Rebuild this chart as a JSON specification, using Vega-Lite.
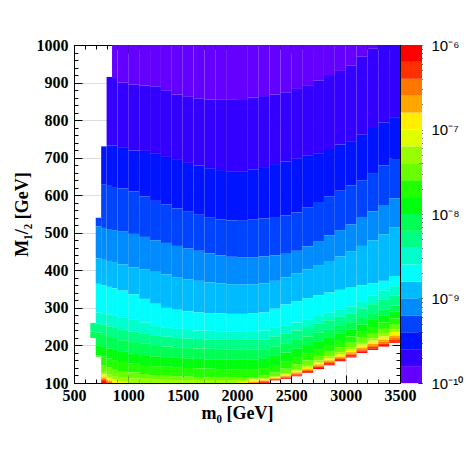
{
"$schema":"https://vega.github.io/schema/vega-lite/v6.json",
"background":"white",
"padding":{"left":12,"top":36,"right":2,"bottom":2},
"spacing":1,
"bounds":"flush",
"config":{
"view":{"stroke":"black","strokeWidth":1},
"axis":{"labelFont":"Liberation Serif","labelFontWeight":"bold","labelFontSize":16,"labelColor":"black","titleFont":"Liberation Serif","titleFontWeight":"bold","titleFontSize":18,"titleColor":"black","domainColor":"black","tickColor":"black","tickWidth":1,"labelFlush":false,"labelOverlap":false,"labelBound":false,"zindex":3}
},
"hconcat":[
{
"width":326,"height":338,
"data":{"values":[
{"x":650,"x2":700,"y":237,"y2":260,"l":8},{"x":650,"x2":700,"y":220,"y2":237,"l":9},
{"x":700,"x2":750,"y":517,"y2":540,"l":3},{"x":700,"x2":750,"y":432,"y2":517,"l":4},{"x":700,"x2":750,"y":364,"y2":432,"l":5},{"x":700,"x2":750,"y":288,"y2":364,"l":6},{"x":700,"x2":750,"y":258,"y2":288,"l":7},{"x":700,"x2":750,"y":234,"y2":258,"l":8},{"x":700,"x2":750,"y":200,"y2":234,"l":9},{"x":700,"x2":750,"y":174,"y2":200,"l":10},{"x":700,"x2":750,"y":170,"y2":174,"l":11},
{"x":750,"x2":800,"y":628,"y2":730,"l":2},{"x":750,"x2":800,"y":513,"y2":628,"l":3},{"x":750,"x2":800,"y":428,"y2":513,"l":4},{"x":750,"x2":800,"y":360,"y2":428,"l":5},{"x":750,"x2":800,"y":286,"y2":360,"l":6},{"x":750,"x2":800,"y":255,"y2":286,"l":7},{"x":750,"x2":800,"y":230,"y2":255,"l":8},{"x":750,"x2":800,"y":196,"y2":230,"l":9},{"x":750,"x2":800,"y":170,"y2":196,"l":10},{"x":750,"x2":800,"y":146,"y2":170,"l":11},{"x":750,"x2":800,"y":127,"y2":146,"l":12},{"x":750,"x2":800,"y":123,"y2":127,"l":13},{"x":750,"x2":800,"y":119,"y2":123,"l":14},{"x":750,"x2":800,"y":115,"y2":119,"l":15},{"x":750,"x2":800,"y":111,"y2":115,"l":16},{"x":750,"x2":800,"y":108,"y2":111,"l":17},{"x":750,"x2":800,"y":105,"y2":108,"l":18},{"x":750,"x2":800,"y":100,"y2":105,"l":19},
{"x":800,"x2":850,"y":732,"y2":915,"l":1},{"x":800,"x2":850,"y":625,"y2":732,"l":2},{"x":800,"x2":850,"y":510,"y2":625,"l":3},{"x":800,"x2":850,"y":425,"y2":510,"l":4},{"x":800,"x2":850,"y":356,"y2":425,"l":5},{"x":800,"x2":850,"y":283,"y2":356,"l":6},{"x":800,"x2":850,"y":251,"y2":283,"l":7},{"x":800,"x2":850,"y":225,"y2":251,"l":8},{"x":800,"x2":850,"y":192,"y2":225,"l":9},{"x":800,"x2":850,"y":165,"y2":192,"l":10},{"x":800,"x2":850,"y":141,"y2":165,"l":11},{"x":800,"x2":850,"y":122,"y2":141,"l":12},{"x":800,"x2":850,"y":116,"y2":122,"l":13},{"x":800,"x2":850,"y":111,"y2":116,"l":14},{"x":800,"x2":850,"y":106,"y2":111,"l":15},{"x":800,"x2":850,"y":103,"y2":106,"l":16},{"x":800,"x2":850,"y":100,"y2":103,"l":17},
{"x":850,"x2":900,"y":912,"y2":1000,"l":0},{"x":850,"x2":900,"y":732,"y2":912,"l":1},{"x":850,"x2":900,"y":622,"y2":732,"l":2},{"x":850,"x2":900,"y":507,"y2":622,"l":3},{"x":850,"x2":900,"y":422,"y2":507,"l":4},{"x":850,"x2":900,"y":352,"y2":422,"l":5},{"x":850,"x2":900,"y":280,"y2":352,"l":6},{"x":850,"x2":900,"y":247,"y2":280,"l":7},{"x":850,"x2":900,"y":220,"y2":247,"l":8},{"x":850,"x2":900,"y":188,"y2":220,"l":9},{"x":850,"x2":900,"y":161,"y2":188,"l":10},{"x":850,"x2":900,"y":137,"y2":161,"l":11},{"x":850,"x2":900,"y":117,"y2":137,"l":12},{"x":850,"x2":900,"y":110,"y2":117,"l":13},{"x":850,"x2":900,"y":104,"y2":110,"l":14},{"x":850,"x2":900,"y":100,"y2":104,"l":15},
{"x":900,"x2":1000,"y":900,"y2":1000,"l":0},{"x":900,"x2":1000,"y":728,"y2":900,"l":1},{"x":900,"x2":1000,"y":618,"y2":728,"l":2},{"x":900,"x2":1000,"y":503,"y2":618,"l":3},{"x":900,"x2":1000,"y":416,"y2":503,"l":4},{"x":900,"x2":1000,"y":346,"y2":416,"l":5},{"x":900,"x2":1000,"y":274,"y2":346,"l":6},{"x":900,"x2":1000,"y":242,"y2":274,"l":7},{"x":900,"x2":1000,"y":214,"y2":242,"l":8},{"x":900,"x2":1000,"y":183,"y2":214,"l":9},{"x":900,"x2":1000,"y":156,"y2":183,"l":10},{"x":900,"x2":1000,"y":132,"y2":156,"l":11},{"x":900,"x2":1000,"y":114,"y2":132,"l":12},{"x":900,"x2":1000,"y":105,"y2":114,"l":13},{"x":900,"x2":1000,"y":100,"y2":105,"l":14},
{"x":1000,"x2":1100,"y":895,"y2":1000,"l":0},{"x":1000,"x2":1100,"y":719,"y2":895,"l":1},{"x":1000,"x2":1100,"y":610,"y2":719,"l":2},{"x":1000,"x2":1100,"y":497,"y2":610,"l":3},{"x":1000,"x2":1100,"y":408,"y2":497,"l":4},{"x":1000,"x2":1100,"y":336,"y2":408,"l":5},{"x":1000,"x2":1100,"y":268,"y2":336,"l":6},{"x":1000,"x2":1100,"y":237,"y2":268,"l":7},{"x":1000,"x2":1100,"y":209,"y2":237,"l":8},{"x":1000,"x2":1100,"y":178,"y2":209,"l":9},{"x":1000,"x2":1100,"y":152,"y2":178,"l":10},{"x":1000,"x2":1100,"y":128,"y2":152,"l":11},{"x":1000,"x2":1100,"y":112,"y2":128,"l":12},{"x":1000,"x2":1100,"y":100,"y2":112,"l":13},
{"x":1100,"x2":1200,"y":892,"y2":1000,"l":0},{"x":1100,"x2":1200,"y":718,"y2":892,"l":1},{"x":1100,"x2":1200,"y":597,"y2":718,"l":2},{"x":1100,"x2":1200,"y":489,"y2":597,"l":3},{"x":1100,"x2":1200,"y":402,"y2":489,"l":4},{"x":1100,"x2":1200,"y":324,"y2":402,"l":5},{"x":1100,"x2":1200,"y":261,"y2":324,"l":6},{"x":1100,"x2":1200,"y":232,"y2":261,"l":7},{"x":1100,"x2":1200,"y":205,"y2":232,"l":8},{"x":1100,"x2":1200,"y":174,"y2":205,"l":9},{"x":1100,"x2":1200,"y":148,"y2":174,"l":10},{"x":1100,"x2":1200,"y":124,"y2":148,"l":11},{"x":1100,"x2":1200,"y":111,"y2":124,"l":12},{"x":1100,"x2":1200,"y":100,"y2":111,"l":13},
{"x":1200,"x2":1300,"y":890,"y2":1000,"l":0},{"x":1200,"x2":1300,"y":712,"y2":890,"l":1},{"x":1200,"x2":1300,"y":585,"y2":712,"l":2},{"x":1200,"x2":1300,"y":480,"y2":585,"l":3},{"x":1200,"x2":1300,"y":396,"y2":480,"l":4},{"x":1200,"x2":1300,"y":311,"y2":396,"l":5},{"x":1200,"x2":1300,"y":254,"y2":311,"l":6},{"x":1200,"x2":1300,"y":227,"y2":254,"l":7},{"x":1200,"x2":1300,"y":201,"y2":227,"l":8},{"x":1200,"x2":1300,"y":171,"y2":201,"l":9},{"x":1200,"x2":1300,"y":145,"y2":171,"l":10},{"x":1200,"x2":1300,"y":121,"y2":145,"l":11},{"x":1200,"x2":1300,"y":110,"y2":121,"l":12},{"x":1200,"x2":1300,"y":100,"y2":110,"l":13},
{"x":1300,"x2":1400,"y":878,"y2":1000,"l":0},{"x":1300,"x2":1400,"y":702,"y2":878,"l":1},{"x":1300,"x2":1400,"y":575,"y2":702,"l":2},{"x":1300,"x2":1400,"y":473,"y2":575,"l":3},{"x":1300,"x2":1400,"y":389,"y2":473,"l":4},{"x":1300,"x2":1400,"y":300,"y2":389,"l":5},{"x":1300,"x2":1400,"y":248,"y2":300,"l":6},{"x":1300,"x2":1400,"y":223,"y2":248,"l":7},{"x":1300,"x2":1400,"y":197,"y2":223,"l":8},{"x":1300,"x2":1400,"y":169,"y2":197,"l":9},{"x":1300,"x2":1400,"y":143,"y2":169,"l":10},{"x":1300,"x2":1400,"y":119,"y2":143,"l":11},{"x":1300,"x2":1400,"y":109,"y2":119,"l":12},{"x":1300,"x2":1400,"y":100,"y2":109,"l":13},
{"x":1400,"x2":1500,"y":868,"y2":1000,"l":0},{"x":1400,"x2":1500,"y":694,"y2":868,"l":1},{"x":1400,"x2":1500,"y":565,"y2":694,"l":2},{"x":1400,"x2":1500,"y":465,"y2":565,"l":3},{"x":1400,"x2":1500,"y":382,"y2":465,"l":4},{"x":1400,"x2":1500,"y":295,"y2":382,"l":5},{"x":1400,"x2":1500,"y":244,"y2":295,"l":6},{"x":1400,"x2":1500,"y":220,"y2":244,"l":7},{"x":1400,"x2":1500,"y":195,"y2":220,"l":8},{"x":1400,"x2":1500,"y":167,"y2":195,"l":9},{"x":1400,"x2":1500,"y":141,"y2":167,"l":10},{"x":1400,"x2":1500,"y":118,"y2":141,"l":11},{"x":1400,"x2":1500,"y":108,"y2":118,"l":12},{"x":1400,"x2":1500,"y":100,"y2":108,"l":13},
{"x":1500,"x2":1600,"y":862,"y2":1000,"l":0},{"x":1500,"x2":1600,"y":686,"y2":862,"l":1},{"x":1500,"x2":1600,"y":556,"y2":686,"l":2},{"x":1500,"x2":1600,"y":458,"y2":556,"l":3},{"x":1500,"x2":1600,"y":376,"y2":458,"l":4},{"x":1500,"x2":1600,"y":291,"y2":376,"l":5},{"x":1500,"x2":1600,"y":241,"y2":291,"l":6},{"x":1500,"x2":1600,"y":218,"y2":241,"l":7},{"x":1500,"x2":1600,"y":193,"y2":218,"l":8},{"x":1500,"x2":1600,"y":165,"y2":193,"l":9},{"x":1500,"x2":1600,"y":140,"y2":165,"l":10},{"x":1500,"x2":1600,"y":117,"y2":140,"l":11},{"x":1500,"x2":1600,"y":108,"y2":117,"l":12},{"x":1500,"x2":1600,"y":100,"y2":108,"l":13},
{"x":1600,"x2":1700,"y":858,"y2":1000,"l":0},{"x":1600,"x2":1700,"y":679,"y2":858,"l":1},{"x":1600,"x2":1700,"y":548,"y2":679,"l":2},{"x":1600,"x2":1700,"y":452,"y2":548,"l":3},{"x":1600,"x2":1700,"y":372,"y2":452,"l":4},{"x":1600,"x2":1700,"y":288,"y2":372,"l":5},{"x":1600,"x2":1700,"y":240,"y2":288,"l":6},{"x":1600,"x2":1700,"y":217,"y2":240,"l":7},{"x":1600,"x2":1700,"y":192,"y2":217,"l":8},{"x":1600,"x2":1700,"y":164,"y2":192,"l":9},{"x":1600,"x2":1700,"y":139,"y2":164,"l":10},{"x":1600,"x2":1700,"y":116,"y2":139,"l":11},{"x":1600,"x2":1700,"y":108,"y2":116,"l":12},{"x":1600,"x2":1700,"y":100,"y2":108,"l":13},
{"x":1700,"x2":1800,"y":855,"y2":1000,"l":0},{"x":1700,"x2":1800,"y":672,"y2":855,"l":1},{"x":1700,"x2":1800,"y":540,"y2":672,"l":2},{"x":1700,"x2":1800,"y":445,"y2":540,"l":3},{"x":1700,"x2":1800,"y":368,"y2":445,"l":4},{"x":1700,"x2":1800,"y":286,"y2":368,"l":5},{"x":1700,"x2":1800,"y":239,"y2":286,"l":6},{"x":1700,"x2":1800,"y":216,"y2":239,"l":7},{"x":1700,"x2":1800,"y":191,"y2":216,"l":8},{"x":1700,"x2":1800,"y":163,"y2":191,"l":9},{"x":1700,"x2":1800,"y":138,"y2":163,"l":10},{"x":1700,"x2":1800,"y":115,"y2":138,"l":11},{"x":1700,"x2":1800,"y":108,"y2":115,"l":12},{"x":1700,"x2":1800,"y":100,"y2":108,"l":13},
{"x":1800,"x2":1900,"y":854,"y2":1000,"l":0},{"x":1800,"x2":1900,"y":667,"y2":854,"l":1},{"x":1800,"x2":1900,"y":536,"y2":667,"l":2},{"x":1800,"x2":1900,"y":440,"y2":536,"l":3},{"x":1800,"x2":1900,"y":365,"y2":440,"l":4},{"x":1800,"x2":1900,"y":285,"y2":365,"l":5},{"x":1800,"x2":1900,"y":238,"y2":285,"l":6},{"x":1800,"x2":1900,"y":215,"y2":238,"l":7},{"x":1800,"x2":1900,"y":190,"y2":215,"l":8},{"x":1800,"x2":1900,"y":162,"y2":190,"l":9},{"x":1800,"x2":1900,"y":137,"y2":162,"l":10},{"x":1800,"x2":1900,"y":114,"y2":137,"l":11},{"x":1800,"x2":1900,"y":108,"y2":114,"l":12},{"x":1800,"x2":1900,"y":100,"y2":108,"l":13},
{"x":1900,"x2":2000,"y":854,"y2":1000,"l":0},{"x":1900,"x2":2000,"y":664,"y2":854,"l":1},{"x":1900,"x2":2000,"y":533,"y2":664,"l":2},{"x":1900,"x2":2000,"y":436,"y2":533,"l":3},{"x":1900,"x2":2000,"y":363,"y2":436,"l":4},{"x":1900,"x2":2000,"y":284,"y2":363,"l":5},{"x":1900,"x2":2000,"y":237,"y2":284,"l":6},{"x":1900,"x2":2000,"y":215,"y2":237,"l":7},{"x":1900,"x2":2000,"y":189,"y2":215,"l":8},{"x":1900,"x2":2000,"y":162,"y2":189,"l":9},{"x":1900,"x2":2000,"y":136,"y2":162,"l":10},{"x":1900,"x2":2000,"y":114,"y2":136,"l":11},{"x":1900,"x2":2000,"y":108,"y2":114,"l":12},{"x":1900,"x2":2000,"y":100,"y2":108,"l":13},
{"x":2000,"x2":2100,"y":856,"y2":1000,"l":0},{"x":2000,"x2":2100,"y":664,"y2":856,"l":1},{"x":2000,"x2":2100,"y":532,"y2":664,"l":2},{"x":2000,"x2":2100,"y":434,"y2":532,"l":3},{"x":2000,"x2":2100,"y":362,"y2":434,"l":4},{"x":2000,"x2":2100,"y":284,"y2":362,"l":5},{"x":2000,"x2":2100,"y":237,"y2":284,"l":6},{"x":2000,"x2":2100,"y":215,"y2":237,"l":7},{"x":2000,"x2":2100,"y":189,"y2":215,"l":8},{"x":2000,"x2":2100,"y":162,"y2":189,"l":9},{"x":2000,"x2":2100,"y":136,"y2":162,"l":10},{"x":2000,"x2":2100,"y":114,"y2":136,"l":11},{"x":2000,"x2":2100,"y":108,"y2":114,"l":12},{"x":2000,"x2":2100,"y":103,"y2":108,"l":13},{"x":2000,"x2":2100,"y":100,"y2":103,"l":14},
{"x":2100,"x2":2200,"y":860,"y2":1000,"l":0},{"x":2100,"x2":2200,"y":668,"y2":860,"l":1},{"x":2100,"x2":2200,"y":535,"y2":668,"l":2},{"x":2100,"x2":2200,"y":434,"y2":535,"l":3},{"x":2100,"x2":2200,"y":363,"y2":434,"l":4},{"x":2100,"x2":2200,"y":286,"y2":363,"l":5},{"x":2100,"x2":2200,"y":238,"y2":286,"l":6},{"x":2100,"x2":2200,"y":215,"y2":238,"l":7},{"x":2100,"x2":2200,"y":189,"y2":215,"l":8},{"x":2100,"x2":2200,"y":162,"y2":189,"l":9},{"x":2100,"x2":2200,"y":137,"y2":162,"l":10},{"x":2100,"x2":2200,"y":116,"y2":137,"l":11},{"x":2100,"x2":2200,"y":112,"y2":116,"l":12},{"x":2100,"x2":2200,"y":109,"y2":112,"l":13},{"x":2100,"x2":2200,"y":106,"y2":109,"l":14},{"x":2100,"x2":2200,"y":103,"y2":106,"l":15},{"x":2100,"x2":2200,"y":100,"y2":103,"l":16},
{"x":2200,"x2":2300,"y":864,"y2":1000,"l":0},{"x":2200,"x2":2300,"y":675,"y2":864,"l":1},{"x":2200,"x2":2300,"y":538,"y2":675,"l":2},{"x":2200,"x2":2300,"y":437,"y2":538,"l":3},{"x":2200,"x2":2300,"y":365,"y2":437,"l":4},{"x":2200,"x2":2300,"y":288,"y2":365,"l":5},{"x":2200,"x2":2300,"y":240,"y2":288,"l":6},{"x":2200,"x2":2300,"y":216,"y2":240,"l":7},{"x":2200,"x2":2300,"y":190,"y2":216,"l":8},{"x":2200,"x2":2300,"y":164,"y2":190,"l":9},{"x":2200,"x2":2300,"y":140,"y2":164,"l":10},{"x":2200,"x2":2300,"y":120,"y2":140,"l":11},{"x":2200,"x2":2300,"y":113,"y2":120,"l":12},{"x":2200,"x2":2300,"y":111,"y2":113,"l":13},{"x":2200,"x2":2300,"y":109,"y2":111,"l":14},{"x":2200,"x2":2300,"y":107,"y2":109,"l":15},{"x":2200,"x2":2300,"y":105,"y2":107,"l":16},{"x":2200,"x2":2300,"y":104,"y2":105,"l":17},{"x":2200,"x2":2300,"y":102,"y2":104,"l":18},{"x":2200,"x2":2300,"y":100,"y2":102,"l":19},
{"x":2300,"x2":2400,"y":868,"y2":1000,"l":0},{"x":2300,"x2":2400,"y":683,"y2":868,"l":1},{"x":2300,"x2":2400,"y":542,"y2":683,"l":2},{"x":2300,"x2":2400,"y":440,"y2":542,"l":3},{"x":2300,"x2":2400,"y":372,"y2":440,"l":4},{"x":2300,"x2":2400,"y":298,"y2":372,"l":5},{"x":2300,"x2":2400,"y":247,"y2":298,"l":6},{"x":2300,"x2":2400,"y":224,"y2":247,"l":7},{"x":2300,"x2":2400,"y":198,"y2":224,"l":8},{"x":2300,"x2":2400,"y":172,"y2":198,"l":9},{"x":2300,"x2":2400,"y":148,"y2":172,"l":10},{"x":2300,"x2":2400,"y":128,"y2":148,"l":11},{"x":2300,"x2":2400,"y":118,"y2":128,"l":12},{"x":2300,"x2":2400,"y":116,"y2":118,"l":13},{"x":2300,"x2":2400,"y":114,"y2":116,"l":14},{"x":2300,"x2":2400,"y":113,"y2":114,"l":15},{"x":2300,"x2":2400,"y":111,"y2":113,"l":16},{"x":2300,"x2":2400,"y":110,"y2":111,"l":17},{"x":2300,"x2":2400,"y":108,"y2":110,"l":18},{"x":2300,"x2":2400,"y":107,"y2":108,"l":19},
{"x":2400,"x2":2500,"y":874,"y2":1000,"l":0},{"x":2400,"x2":2500,"y":690,"y2":874,"l":1},{"x":2400,"x2":2500,"y":546,"y2":690,"l":2},{"x":2400,"x2":2500,"y":444,"y2":546,"l":3},{"x":2400,"x2":2500,"y":381,"y2":444,"l":4},{"x":2400,"x2":2500,"y":309,"y2":381,"l":5},{"x":2400,"x2":2500,"y":254,"y2":309,"l":6},{"x":2400,"x2":2500,"y":232,"y2":254,"l":7},{"x":2400,"x2":2500,"y":206,"y2":232,"l":8},{"x":2400,"x2":2500,"y":181,"y2":206,"l":9},{"x":2400,"x2":2500,"y":158,"y2":181,"l":10},{"x":2400,"x2":2500,"y":138,"y2":158,"l":11},{"x":2400,"x2":2500,"y":126,"y2":138,"l":12},{"x":2400,"x2":2500,"y":123,"y2":126,"l":13},{"x":2400,"x2":2500,"y":121,"y2":123,"l":14},{"x":2400,"x2":2500,"y":119,"y2":121,"l":15},{"x":2400,"x2":2500,"y":117,"y2":119,"l":16},{"x":2400,"x2":2500,"y":115,"y2":117,"l":17},{"x":2400,"x2":2500,"y":113,"y2":115,"l":18},{"x":2400,"x2":2500,"y":111,"y2":113,"l":19},
{"x":2500,"x2":2600,"y":883,"y2":1000,"l":0},{"x":2500,"x2":2600,"y":697,"y2":883,"l":1},{"x":2500,"x2":2600,"y":554,"y2":697,"l":2},{"x":2500,"x2":2600,"y":452,"y2":554,"l":3},{"x":2500,"x2":2600,"y":392,"y2":452,"l":4},{"x":2500,"x2":2600,"y":318,"y2":392,"l":5},{"x":2500,"x2":2600,"y":261,"y2":318,"l":6},{"x":2500,"x2":2600,"y":240,"y2":261,"l":7},{"x":2500,"x2":2600,"y":215,"y2":240,"l":8},{"x":2500,"x2":2600,"y":191,"y2":215,"l":9},{"x":2500,"x2":2600,"y":168,"y2":191,"l":10},{"x":2500,"x2":2600,"y":149,"y2":168,"l":11},{"x":2500,"x2":2600,"y":137,"y2":149,"l":12},{"x":2500,"x2":2600,"y":133,"y2":137,"l":13},{"x":2500,"x2":2600,"y":131,"y2":133,"l":14},{"x":2500,"x2":2600,"y":128,"y2":131,"l":15},{"x":2500,"x2":2600,"y":125,"y2":128,"l":16},{"x":2500,"x2":2600,"y":123,"y2":125,"l":17},{"x":2500,"x2":2600,"y":120,"y2":123,"l":18},{"x":2500,"x2":2600,"y":118,"y2":120,"l":19},
{"x":2600,"x2":2700,"y":893,"y2":1000,"l":0},{"x":2600,"x2":2700,"y":705,"y2":893,"l":1},{"x":2600,"x2":2700,"y":568,"y2":705,"l":2},{"x":2600,"x2":2700,"y":464,"y2":568,"l":3},{"x":2600,"x2":2700,"y":403,"y2":464,"l":4},{"x":2600,"x2":2700,"y":326,"y2":403,"l":5},{"x":2600,"x2":2700,"y":269,"y2":326,"l":6},{"x":2600,"x2":2700,"y":249,"y2":269,"l":7},{"x":2600,"x2":2700,"y":224,"y2":249,"l":8},{"x":2600,"x2":2700,"y":201,"y2":224,"l":9},{"x":2600,"x2":2700,"y":179,"y2":201,"l":10},{"x":2600,"x2":2700,"y":160,"y2":179,"l":11},{"x":2600,"x2":2700,"y":147,"y2":160,"l":12},{"x":2600,"x2":2700,"y":143,"y2":147,"l":13},{"x":2600,"x2":2700,"y":140,"y2":143,"l":14},{"x":2600,"x2":2700,"y":137,"y2":140,"l":15},{"x":2600,"x2":2700,"y":135,"y2":137,"l":16},{"x":2600,"x2":2700,"y":132,"y2":135,"l":17},{"x":2600,"x2":2700,"y":129,"y2":132,"l":18},{"x":2600,"x2":2700,"y":127,"y2":129,"l":19},
{"x":2700,"x2":2800,"y":905,"y2":1000,"l":0},{"x":2700,"x2":2800,"y":712,"y2":905,"l":1},{"x":2700,"x2":2800,"y":582,"y2":712,"l":2},{"x":2700,"x2":2800,"y":478,"y2":582,"l":3},{"x":2700,"x2":2800,"y":414,"y2":478,"l":4},{"x":2700,"x2":2800,"y":334,"y2":414,"l":5},{"x":2700,"x2":2800,"y":279,"y2":334,"l":6},{"x":2700,"x2":2800,"y":258,"y2":279,"l":7},{"x":2700,"x2":2800,"y":234,"y2":258,"l":8},{"x":2700,"x2":2800,"y":211,"y2":234,"l":9},{"x":2700,"x2":2800,"y":190,"y2":211,"l":10},{"x":2700,"x2":2800,"y":172,"y2":190,"l":11},{"x":2700,"x2":2800,"y":160,"y2":172,"l":12},{"x":2700,"x2":2800,"y":155,"y2":160,"l":13},{"x":2700,"x2":2800,"y":152,"y2":155,"l":14},{"x":2700,"x2":2800,"y":149,"y2":152,"l":15},{"x":2700,"x2":2800,"y":146,"y2":149,"l":16},{"x":2700,"x2":2800,"y":143,"y2":146,"l":17},{"x":2700,"x2":2800,"y":140,"y2":143,"l":18},{"x":2700,"x2":2800,"y":137,"y2":140,"l":19},
{"x":2800,"x2":2900,"y":920,"y2":1000,"l":0},{"x":2800,"x2":2900,"y":723,"y2":920,"l":1},{"x":2800,"x2":2900,"y":597,"y2":723,"l":2},{"x":2800,"x2":2900,"y":493,"y2":597,"l":3},{"x":2800,"x2":2900,"y":425,"y2":493,"l":4},{"x":2800,"x2":2900,"y":341,"y2":425,"l":5},{"x":2800,"x2":2900,"y":287,"y2":341,"l":6},{"x":2800,"x2":2900,"y":267,"y2":287,"l":7},{"x":2800,"x2":2900,"y":243,"y2":267,"l":8},{"x":2800,"x2":2900,"y":222,"y2":243,"l":9},{"x":2800,"x2":2900,"y":201,"y2":222,"l":10},{"x":2800,"x2":2900,"y":184,"y2":201,"l":11},{"x":2800,"x2":2900,"y":171,"y2":184,"l":12},{"x":2800,"x2":2900,"y":166,"y2":171,"l":13},{"x":2800,"x2":2900,"y":163,"y2":166,"l":14},{"x":2800,"x2":2900,"y":160,"y2":163,"l":15},{"x":2800,"x2":2900,"y":156,"y2":160,"l":16},{"x":2800,"x2":2900,"y":153,"y2":156,"l":17},{"x":2800,"x2":2900,"y":150,"y2":153,"l":18},{"x":2800,"x2":2900,"y":147,"y2":150,"l":19},
{"x":2900,"x2":3000,"y":931,"y2":1000,"l":0},{"x":2900,"x2":3000,"y":735,"y2":931,"l":1},{"x":2900,"x2":3000,"y":612,"y2":735,"l":2},{"x":2900,"x2":3000,"y":507,"y2":612,"l":3},{"x":2900,"x2":3000,"y":437,"y2":507,"l":4},{"x":2900,"x2":3000,"y":348,"y2":437,"l":5},{"x":2900,"x2":3000,"y":295,"y2":348,"l":6},{"x":2900,"x2":3000,"y":276,"y2":295,"l":7},{"x":2900,"x2":3000,"y":252,"y2":276,"l":8},{"x":2900,"x2":3000,"y":232,"y2":252,"l":9},{"x":2900,"x2":3000,"y":212,"y2":232,"l":10},{"x":2900,"x2":3000,"y":195,"y2":212,"l":11},{"x":2900,"x2":3000,"y":182,"y2":195,"l":12},{"x":2900,"x2":3000,"y":177,"y2":182,"l":13},{"x":2900,"x2":3000,"y":174,"y2":177,"l":14},{"x":2900,"x2":3000,"y":170,"y2":174,"l":15},{"x":2900,"x2":3000,"y":167,"y2":170,"l":16},{"x":2900,"x2":3000,"y":164,"y2":167,"l":17},{"x":2900,"x2":3000,"y":161,"y2":164,"l":18},{"x":2900,"x2":3000,"y":158,"y2":161,"l":19},
{"x":3000,"x2":3100,"y":945,"y2":1000,"l":0},{"x":3000,"x2":3100,"y":744,"y2":945,"l":1},{"x":3000,"x2":3100,"y":626,"y2":744,"l":2},{"x":3000,"x2":3100,"y":522,"y2":626,"l":3},{"x":3000,"x2":3100,"y":451,"y2":522,"l":4},{"x":3000,"x2":3100,"y":354,"y2":451,"l":5},{"x":3000,"x2":3100,"y":304,"y2":354,"l":6},{"x":3000,"x2":3100,"y":285,"y2":304,"l":7},{"x":3000,"x2":3100,"y":262,"y2":285,"l":8},{"x":3000,"x2":3100,"y":243,"y2":262,"l":9},{"x":3000,"x2":3100,"y":224,"y2":243,"l":10},{"x":3000,"x2":3100,"y":207,"y2":224,"l":11},{"x":3000,"x2":3100,"y":194,"y2":207,"l":12},{"x":3000,"x2":3100,"y":189,"y2":194,"l":13},{"x":3000,"x2":3100,"y":185,"y2":189,"l":14},{"x":3000,"x2":3100,"y":182,"y2":185,"l":15},{"x":3000,"x2":3100,"y":178,"y2":182,"l":16},{"x":3000,"x2":3100,"y":175,"y2":178,"l":17},{"x":3000,"x2":3100,"y":171,"y2":175,"l":18},{"x":3000,"x2":3100,"y":168,"y2":171,"l":19},
{"x":3100,"x2":3200,"y":969,"y2":1000,"l":0},{"x":3100,"x2":3200,"y":761,"y2":969,"l":1},{"x":3100,"x2":3200,"y":640,"y2":761,"l":2},{"x":3100,"x2":3200,"y":540,"y2":640,"l":3},{"x":3100,"x2":3200,"y":465,"y2":540,"l":4},{"x":3100,"x2":3200,"y":360,"y2":465,"l":5},{"x":3100,"x2":3200,"y":318,"y2":360,"l":6},{"x":3100,"x2":3200,"y":298,"y2":318,"l":7},{"x":3100,"x2":3200,"y":273,"y2":298,"l":8},{"x":3100,"x2":3200,"y":256,"y2":273,"l":9},{"x":3100,"x2":3200,"y":237,"y2":256,"l":10},{"x":3100,"x2":3200,"y":221,"y2":237,"l":11},{"x":3100,"x2":3200,"y":207,"y2":221,"l":12},{"x":3100,"x2":3200,"y":202,"y2":207,"l":13},{"x":3100,"x2":3200,"y":198,"y2":202,"l":14},{"x":3100,"x2":3200,"y":194,"y2":198,"l":15},{"x":3100,"x2":3200,"y":190,"y2":194,"l":16},{"x":3100,"x2":3200,"y":187,"y2":190,"l":17},{"x":3100,"x2":3200,"y":183,"y2":187,"l":18},{"x":3100,"x2":3200,"y":180,"y2":183,"l":19},
{"x":3200,"x2":3300,"y":990,"y2":1000,"l":0},{"x":3200,"x2":3300,"y":779,"y2":990,"l":1},{"x":3200,"x2":3300,"y":659,"y2":779,"l":2},{"x":3200,"x2":3300,"y":557,"y2":659,"l":3},{"x":3200,"x2":3300,"y":480,"y2":557,"l":4},{"x":3200,"x2":3300,"y":365,"y2":480,"l":5},{"x":3200,"x2":3300,"y":333,"y2":365,"l":6},{"x":3200,"x2":3300,"y":310,"y2":333,"l":7},{"x":3200,"x2":3300,"y":284,"y2":310,"l":8},{"x":3200,"x2":3300,"y":268,"y2":284,"l":9},{"x":3200,"x2":3300,"y":249,"y2":268,"l":10},{"x":3200,"x2":3300,"y":233,"y2":249,"l":11},{"x":3200,"x2":3300,"y":219,"y2":233,"l":12},{"x":3200,"x2":3300,"y":213,"y2":219,"l":13},{"x":3200,"x2":3300,"y":208,"y2":213,"l":14},{"x":3200,"x2":3300,"y":204,"y2":208,"l":15},{"x":3200,"x2":3300,"y":200,"y2":204,"l":16},{"x":3200,"x2":3300,"y":196,"y2":200,"l":17},{"x":3200,"x2":3300,"y":192,"y2":196,"l":18},{"x":3200,"x2":3300,"y":188,"y2":192,"l":19},
{"x":3300,"x2":3400,"y":794,"y2":1000,"l":1},{"x":3300,"x2":3400,"y":679,"y2":794,"l":2},{"x":3300,"x2":3400,"y":574,"y2":679,"l":3},{"x":3300,"x2":3400,"y":496,"y2":574,"l":4},{"x":3300,"x2":3400,"y":372,"y2":496,"l":5},{"x":3300,"x2":3400,"y":347,"y2":372,"l":6},{"x":3300,"x2":3400,"y":322,"y2":347,"l":7},{"x":3300,"x2":3400,"y":296,"y2":322,"l":8},{"x":3300,"x2":3400,"y":280,"y2":296,"l":9},{"x":3300,"x2":3400,"y":261,"y2":280,"l":10},{"x":3300,"x2":3400,"y":244,"y2":261,"l":11},{"x":3300,"x2":3400,"y":231,"y2":244,"l":12},{"x":3300,"x2":3400,"y":224,"y2":231,"l":13},{"x":3300,"x2":3400,"y":219,"y2":224,"l":14},{"x":3300,"x2":3400,"y":215,"y2":219,"l":15},{"x":3300,"x2":3400,"y":210,"y2":215,"l":16},{"x":3300,"x2":3400,"y":205,"y2":210,"l":17},{"x":3300,"x2":3400,"y":201,"y2":205,"l":18},{"x":3300,"x2":3400,"y":197,"y2":201,"l":19},
{"x":3400,"x2":3500,"y":806,"y2":1000,"l":1},{"x":3400,"x2":3500,"y":697,"y2":806,"l":2},{"x":3400,"x2":3500,"y":592,"y2":697,"l":3},{"x":3400,"x2":3500,"y":515,"y2":592,"l":4},{"x":3400,"x2":3500,"y":385,"y2":515,"l":5},{"x":3400,"x2":3500,"y":358,"y2":385,"l":6},{"x":3400,"x2":3500,"y":333,"y2":358,"l":7},{"x":3400,"x2":3500,"y":306,"y2":333,"l":8},{"x":3400,"x2":3500,"y":290,"y2":306,"l":9},{"x":3400,"x2":3500,"y":272,"y2":290,"l":10},{"x":3400,"x2":3500,"y":255,"y2":272,"l":11},{"x":3400,"x2":3500,"y":243,"y2":255,"l":12},{"x":3400,"x2":3500,"y":236,"y2":243,"l":13},{"x":3400,"x2":3500,"y":231,"y2":236,"l":14},{"x":3400,"x2":3500,"y":226,"y2":231,"l":15},{"x":3400,"x2":3500,"y":221,"y2":226,"l":16},{"x":3400,"x2":3500,"y":216,"y2":221,"l":17},{"x":3400,"x2":3500,"y":211,"y2":216,"l":18},{"x":3400,"x2":3500,"y":207,"y2":211,"l":19}
]},
"layer":[
{"mark":{"type":"rect"},
"encoding":{
"x":{"field":"x","type":"quantitative","scale":{"domain":[500,3500],"nice":false,"zero":false},
"axis":{"orient":"bottom","values":[500,1000,1500,2000,2500,3000,3500],"format":"d","tickSize":-8,"labelPadding":12,"title":"m₀ [GeV]","titlePadding":1}},
"x2":{"field":"x2"},
"y":{"field":"y","type":"quantitative","scale":{"domain":[100,1000],"nice":false,"zero":false},
"axis":{"orient":"left","values":[100,200,300,400,500,600,700,800,900,1000],"format":"d","tickSize":-8,"labelPadding":14,"title":"M₁/₂ [GeV]","titlePadding":5}},
"y2":{"field":"y2"},
"color":{"field":"l","type":"ordinal","scale":{"domain":[0,1,2,3,4,5,6,7,8,9,10,11,12,13,14,15,16,17,18,19],"range":["#6300ff","#3300ff","#0014ff","#0044ff","#008bff","#00bbff","#00fffc","#00ffcc","#00ff85","#00ff55","#00ff0e","#22ff00","#69ff00","#99ff00","#e0ff00","#ffee00","#ffa700","#ff7700","#ff3000","#ff0000"]},"legend":null}
}},
{"data":{"values":[{"x":500,"y":100}]},
"mark":{"type":"point","opacity":0},
"encoding":{
"x":{"field":"x","type":"quantitative","axis":{"orient":"bottom","values":[500,600,700,800,900,1000,1100,1200,1300,1400,1500,1600,1700,1800,1900,2000,2100,2200,2300,2400,2500,2600,2700,2800,2900,3000,3100,3200,3300,3400,3500],"labels":false,"domain":false,"tickSize":-4,"title":null}},
"y":{"field":"y","type":"quantitative","axis":{"orient":"left","values":[100,120,140,160,180,200,220,240,260,280,300,320,340,360,380,400,420,440,460,480,500,520,540,560,580,600,620,640,660,680,700,720,740,760,780,800,820,840,860,880,900,920,940,960,980,1000],"labels":false,"domain":false,"tickSize":-4,"title":null}}
}},
{"data":{"values":[{"x":500,"y":100}]},
"mark":{"type":"point","opacity":0},
"encoding":{
"x":{"field":"x","type":"quantitative","axis":{"orient":"top","values":[500,1000,1500,2000,2500,3000,3500],"labels":false,"tickSize":-8,"title":null}},
"y":{"field":"y","type":"quantitative","axis":{"orient":"right","values":[100,200,300,400,500,600,700,800,900,1000],"labels":false,"tickSize":-8,"title":null}}
}},
{"data":{"values":[{"x":500,"y":100}]},
"mark":{"type":"point","opacity":0},
"encoding":{
"x":{"field":"x","type":"quantitative","axis":{"orient":"top","values":[500,600,700,800,900,1000,1100,1200,1300,1400,1500,1600,1700,1800,1900,2000,2100,2200,2300,2400,2500,2600,2700,2800,2900,3000,3100,3200,3300,3400,3500],"labels":false,"domain":false,"tickSize":-4,"title":null}},
"y":{"field":"y","type":"quantitative","axis":{"orient":"right","values":[100,120,140,160,180,200,220,240,260,280,300,320,340,360,380,400,420,440,460,480,500,520,540,560,580,600,620,640,660,680,700,720,740,760,780,800,820,840,860,880,900,920,940,960,980,1000],"labels":false,"domain":false,"tickSize":-4,"title":null}}
}}
],
"resolve":{"axis":{"x":"independent","y":"independent"}}
},
{
"width":21,"height":338,
"view":{"stroke":null},
"data":{"values":[
{"lo":1e-10,"hi":1.585e-10,"l":0},{"lo":1.585e-10,"hi":2.512e-10,"l":1},{"lo":2.512e-10,"hi":3.981e-10,"l":2},{"lo":3.981e-10,"hi":6.31e-10,"l":3},{"lo":6.31e-10,"hi":1e-9,"l":4},
{"lo":1e-9,"hi":1.585e-9,"l":5},{"lo":1.585e-9,"hi":2.512e-9,"l":6},{"lo":2.512e-9,"hi":3.981e-9,"l":7},{"lo":3.981e-9,"hi":6.31e-9,"l":8},{"lo":6.31e-9,"hi":1e-8,"l":9},
{"lo":1e-8,"hi":1.585e-8,"l":10},{"lo":1.585e-8,"hi":2.512e-8,"l":11},{"lo":2.512e-8,"hi":3.981e-8,"l":12},{"lo":3.981e-8,"hi":6.31e-8,"l":13},{"lo":6.31e-8,"hi":1e-7,"l":14},
{"lo":1e-7,"hi":1.585e-7,"l":15},{"lo":1.585e-7,"hi":2.512e-7,"l":16},{"lo":2.512e-7,"hi":3.981e-7,"l":17},{"lo":3.981e-7,"hi":6.31e-7,"l":18},{"lo":6.31e-7,"hi":1e-6,"l":19}
]},
"mark":{"type":"rect"},
"encoding":{
"y":{"field":"lo","type":"quantitative","scale":{"type":"log","domain":[1e-10,1e-6],"nice":false},
"axis":{"orient":"right","domain":false,"title":null,"values":[1e-10,2e-10,3e-10,4e-10,5e-10,6e-10,7e-10,8e-10,9e-10,1e-9,2e-9,3e-9,4e-9,5e-9,6e-9,7e-9,8e-9,9e-9,1e-8,2e-8,3e-8,4e-8,5e-8,6e-8,7e-8,8e-8,9e-8,1e-7,2e-7,3e-7,4e-7,5e-7,6e-7,7e-7,8e-7,9e-7,1e-6],
"labelExpr":"datum.value === 1e-6 ? '10⁻⁶' : datum.value === 1e-7 ? '10⁻⁷' : datum.value === 1e-8 ? '10⁻⁸' : datum.value === 1e-9 ? '10⁻⁹' : datum.value === 1e-10 ? '10⁻¹⁰' : ''",
"tickSize":-4,
"labelPadding":13,"labelFont":"Liberation Sans","labelFontWeight":"normal","labelFontSize":15,"labelAlign":"left","labelBaseline":"middle"}},
"y2":{"field":"hi"},
"color":{"field":"l","type":"ordinal","scale":{"domain":[0,1,2,3,4,5,6,7,8,9,10,11,12,13,14,15,16,17,18,19],"range":["#6300ff","#3300ff","#0014ff","#0044ff","#008bff","#00bbff","#00fffc","#00ffcc","#00ff85","#00ff55","#00ff0e","#22ff00","#69ff00","#99ff00","#e0ff00","#ffee00","#ffa700","#ff7700","#ff3000","#ff0000"]},"legend":null}
}
}
]
}
